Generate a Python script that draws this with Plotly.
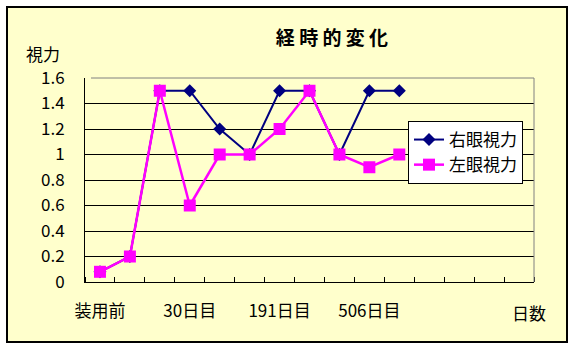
import plotly.graph_objects as go

# ---- data ----
categories = list(range(15))
right_eye = [0.08, 0.2, 1.5, 1.5, 1.2, 1.0, 1.5, 1.5, 1.0, 1.5, 1.5, None, None, None, None]
left_eye = [0.08, 0.2, 1.5, 0.6, 1.0, 1.0, 1.2, 1.5, 1.0, 0.9, 1.0, None, None, None, None]
label_positions = [0, 3, 6, 9]
label_texts = ["装用前", "30日目", "191日目", "506日目"]
y_ticks = [0, 0.2, 0.4, 0.6, 0.8, 1, 1.2, 1.4, 1.6]
y_tick_texts = ["0", "0.2", "0.4", "0.6", "0.8", "1", "1.2", "1.4", "1.6"]

W, H = 575, 349
L, R, T, B = 85, 534, 78, 282
pw, ph = R - L, B - T

def px(x):
    return (x - L) / pw

def py(y):
    return (B - y) / ph

FONT = "Noto Sans CJK JP, sans-serif"

fig = go.Figure()
fig.add_trace(go.Scatter(
    x=categories, y=right_eye, name="右眼視力", mode="lines+markers",
    line=dict(color="#000080", width=2),
    marker=dict(symbol="diamond", size=10, color="#000080"),
))
fig.add_trace(go.Scatter(
    x=categories, y=left_eye, name="左眼視力", mode="lines+markers",
    line=dict(color="#FF00FF", width=2.5),
    marker=dict(symbol="square", size=12, color="#FF00FF"),
))

fig.update_layout(
    width=W, height=H,
    margin=dict(l=L, r=W - R, t=T, b=H - B, pad=0),
    paper_bgcolor="white",
    plot_bgcolor="#C0C0C0",
    font=dict(family=FONT, size=17, color="black"),
    title=dict(text="<b>経 時 的 変 化</b>", x=332 / W, y=1 - 38 / H,
               xanchor="center", yanchor="middle",
               font=dict(size=19, family=FONT, color="black")),
    showlegend=True,
    legend=dict(x=px(408), y=py(121), xanchor="left", yanchor="top",
                bgcolor="white", bordercolor="black", borderwidth=1,
                font=dict(size=17, family=FONT), tracegroupgap=0,
                itemwidth=30),
    xaxis=dict(
        range=[-0.5, 14.5], tickmode="array", tickvals=label_positions,
        ticktext=label_texts, ticks="", showgrid=False, zeroline=False,
        showline=True, linecolor="black", linewidth=1,
        ticklabelstandoff=14,
        minor=dict(tickmode="linear", tick0=-0.5, dtick=1, ticks="inside",
                   ticklen=5, tickcolor="black", tickwidth=1, showgrid=False),
    ),
    yaxis=dict(
        range=[0, 1.6], tickmode="array", tickvals=y_ticks, ticktext=y_tick_texts,
        ticks="inside", ticklen=5, tickcolor="black",
        showgrid=True, gridcolor="black", gridwidth=1, zeroline=False,
        showline=True, linecolor="black", linewidth=1,
        ticklabelstandoff=16,
    ),
    shapes=[
        dict(type="rect", xref="paper", yref="paper",
             x0=px(7), x1=px(567), y0=py(342), y1=py(7),
             fillcolor="#FFFFCC", line=dict(color="black", width=2), layer="below"),
        dict(type="path", xref="paper", yref="paper",
             path=f"M {px(L+6)},1 L 1,1 L 1,0",
             line=dict(color="#808080", width=1), layer="above"),
    ],
    annotations=[
        dict(text="視力", xref="paper", yref="paper", x=px(43), y=py(53),
             xanchor="center", yanchor="middle", showarrow=False,
             font=dict(size=17, family=FONT)),
        dict(text="日数", xref="paper", yref="paper", x=px(529), y=py(312),
             xanchor="center", yanchor="middle", showarrow=False,
             font=dict(size=17, family=FONT)),
    ],
)

fig.write_html("out.html")
